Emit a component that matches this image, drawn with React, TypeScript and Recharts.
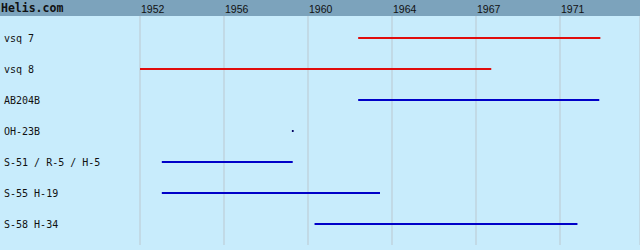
import { LineChart, Line, XAxis, YAxis, CartesianGrid } from "recharts"

const aircraft = ["vsq 7", "vsq 8", "AB204B", "OH-23B", "S-51 / R-5 / H-5", "S-55 H-19", "S-58 H-34"]
const fromYear = [1962.0, 1952.0, 1962.0, 1959.0, 1953.0, 1953.0, 1960.0]
const toYear = [1973.1, 1968.1, 1973.05, 1959.0, 1959.0, 1963.0, 1972.05]
const barColor = ["#e00c0c", "#e00c0c", "#0000c8", "#0000c8", "#0000c8", "#0000c8", "#0000c8"]

// grid sits every 84px, labels are the rounded year at each line
const yearTicks = [1952, 1955.85, 1959.7, 1963.55, 1967.4, 1971.25]
const yearLabels = ["1952", "1956", "1960", "1964", "1967", "1971"]

const rows = aircraft.map((_, i) => i)

function YearTick({ x, payload }: any) {
  const i = yearTicks.indexOf(payload.value)
  return (
    <text x={x + 1} y={13} fontSize={10.5} fontFamily="Liberation Sans" fill="#111">
      {yearLabels[i]}
    </text>
  )
}

function NameTick({ y, payload }: any) {
  return (
    <text x={4} y={y + 4} fontSize={10} fontFamily="DejaVu Sans Mono" fill="#111">
      {aircraft[payload.value]}
    </text>
  )
}

export default function App() {
  return (
    <div
      style={{
        position: "absolute",
        left: 0,
        top: 0,
        width: 640,
        height: 250,
        background: "linear-gradient(to bottom, #7ca3bc 0px, #7ca3bc 16px, #c8ecfc 16px)",
      }}
    >
      <div
        style={{
          position: "absolute",
          left: 1,
          top: 1,
          fontFamily: "DejaVu Sans Mono",
          fontWeight: "bold",
          fontSize: 11.5,
          color: "#111",
        }}
      >
        Helis.com
      </div>
      <LineChart width={640} height={250} margin={{ top: 0, right: 0, bottom: 5, left: 0 }}>
        <CartesianGrid horizontal={false} stroke="#bcc8d0" />
        <XAxis
          type="number"
          dataKey="year"
          orientation="top"
          height={16}
          domain={[1952, 1974.917]}
          ticks={yearTicks}
          tick={<YearTick />}
          axisLine={false}
          tickLine={false}
          allowDataOverflow
        />
        <YAxis
          type="number"
          dataKey="row"
          width={140}
          reversed
          domain={[-0.7097, 6.677]}
          ticks={rows}
          tick={<NameTick />}
          axisLine={false}
          tickLine={false}
          allowDataOverflow
        />
        {aircraft.map((name, i) => (
          <Line
            key={name}
            name={name}
            data={[
              { year: fromYear[i], row: i },
              { year: toYear[i], row: i },
            ]}
            dataKey="row"
            stroke={barColor[i]}
            strokeWidth={fromYear[i] === toYear[i] ? 0 : 2.2}
            dot={fromYear[i] === toYear[i] ? { r: 0.9, fill: "#000060", stroke: "none" } : false}
            isAnimationActive={false}
          />
        ))}
      </LineChart>
    </div>
  )
}
